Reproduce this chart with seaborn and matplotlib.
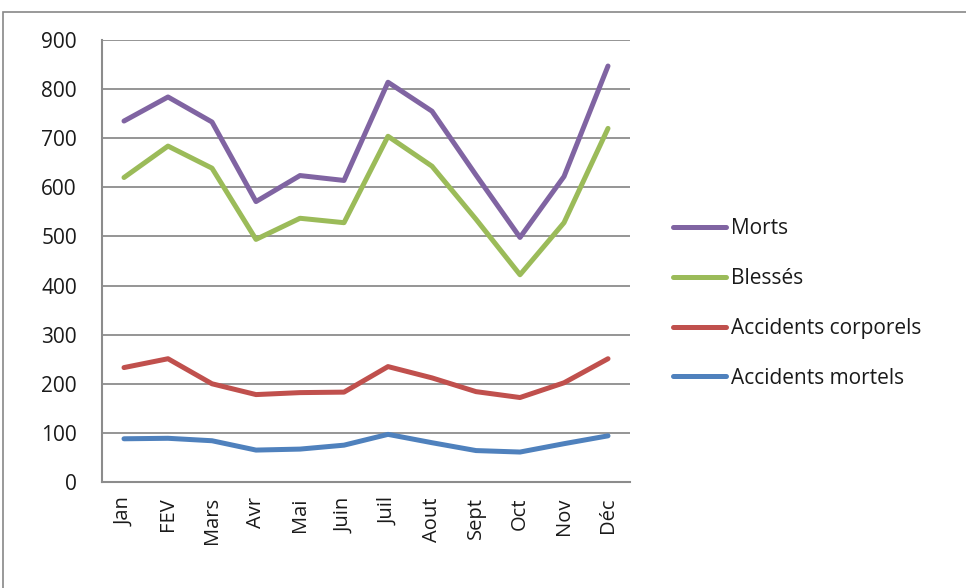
import numpy as np
import pandas as pd
import matplotlib.pyplot as plt
import seaborn as sns
from matplotlib.patches import Rectangle
from matplotlib.ticker import FixedLocator

months = ["Jan", "FEV", "Mars", "Avr", "Mai", "Juin", "Juil", "Aout", "Sept", "Oct", "Nov", "Déc"]
morts = [735, 784, 733, 571, 624, 614, 814, 755, 625, 498, 622, 847]
blesses = [620, 684, 639, 494, 537, 528, 704, 643, 535, 422, 528, 720]
acc_corporels = [233, 251, 200, 178, 182, 183, 235, 212, 184, 172, 202, 251]
acc_mortels = [88, 89, 84, 65, 67, 75, 97, 80, 64, 61, 78, 94]

series = ["Morts", "Blessés", "Accidents corporels", "Accidents mortels"]
colors = ["#8064A2", "#9BBB59", "#C0504D", "#4F81BD"]

df = pd.DataFrame({
    "mois": months * 4,
    "valeur": morts + blesses + acc_corporels + acc_mortels,
    "serie": np.repeat(series, len(months)),
})

sns.set_style("white")
plt.rcParams["font.family"] = ["Open Sans", "DejaVu Sans"]
plt.rcParams["text.color"] = "#1a1a1a"
plt.rcParams["xtick.color"] = "#1a1a1a"
plt.rcParams["ytick.color"] = "#1a1a1a"

fig = plt.figure(figsize=(9.66, 5.88), dpi=100)
#outer chart frame
fig.patches.append(Rectangle((3 / 966, -0.05), 1.1, 1 - 12 / 588 + 0.05,
                             transform=fig.transFigure, fill=False,
                             edgecolor="#888888", linewidth=1.2))
ax = fig.add_axes([102 / 966, 1 - 482 / 588, 528 / 966, 442 / 588])

sns.lineplot(data=df, x="mois", y="valeur", hue="serie", hue_order=series,
             palette=colors, linewidth=3.6, sort=False, ax=ax)

ax.set_xlim(-0.5, len(months) - 0.5)
ax.set_ylim(0, 900)
ax.set_yticks(range(0, 901, 100))
ax.yaxis.grid(True, color="#8c8c8c", linewidth=1.3)
ax.set_axisbelow(True)
for s in ["top", "right"]:
    ax.spines[s].set_visible(False)
for s in ["left", "bottom"]:
    ax.spines[s].set_color("#8c8c8c")
    ax.spines[s].set_linewidth(1.5)

ax.set_xticks(range(len(months)))
ax.set_xticklabels(months, rotation=90, fontsize=14.5)
ax.tick_params(axis="x", which="major", length=0, pad=11)
ax.xaxis.set_minor_locator(FixedLocator(np.arange(-0.5, len(months), 1)))
ax.tick_params(axis="x", which="minor", length=6, color="#8c8c8c", width=1.3)
ax.tick_params(axis="y", length=6, color="#8c8c8c", width=1.3, labelsize=15, pad=12)
ax.set_xlabel("")
ax.set_ylabel("")

leg = ax.legend(loc="center left", bbox_to_anchor=(1.045, 0.404), frameon=False,
                fontsize=15, handlelength=2.55, labelspacing=1.38, handletextpad=0.25)
for line in leg.get_lines():
    line.set_linewidth(3.6)

fig.savefig("out.png", dpi=100)
